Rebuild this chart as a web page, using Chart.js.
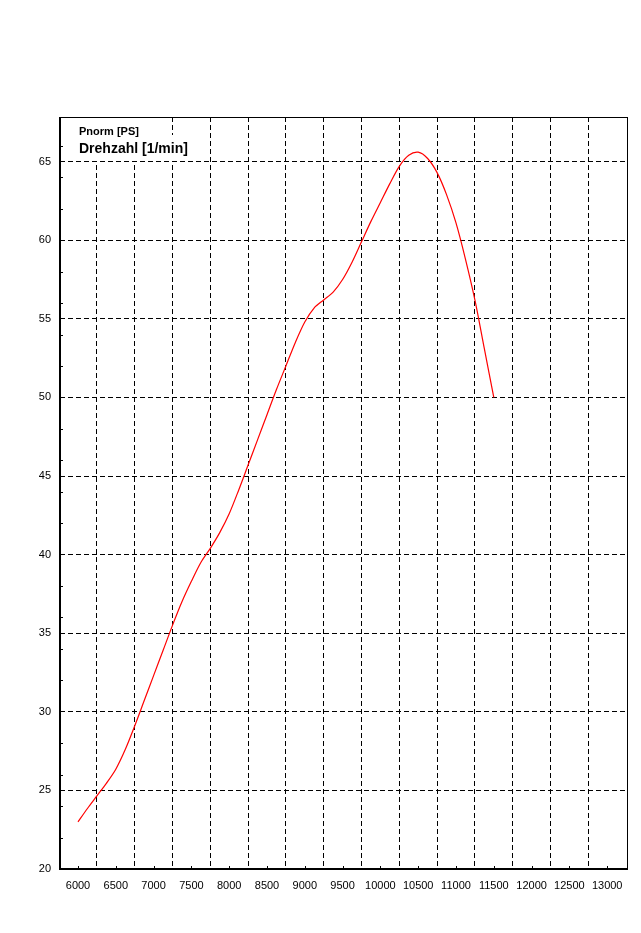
<!DOCTYPE html>
<html>
<head>
<meta charset="utf-8">
<script src="https://cdn.jsdelivr.net/npm/chart.js@4/dist/chart.umd.min.js"></script>
<style>
  html, body { margin: 0; padding: 0; background: #ffffff; }
  #wrap { width: 641px; height: 933px; }
</style>
</head>
<body>
<div id="wrap"><canvas id="powerChart"></canvas></div>
<script>
// Drehzahl (1/min) und Leistung Pnorm (PS)
const rpm = [6000, 6125, 6250, 6375, 6500, 6625, 6750, 6875, 7000, 7125, 7250, 7375, 7500, 7625, 7750, 7875,
             8000, 8125, 8250, 8375, 8500, 8625, 8750, 8875, 9000, 9125, 9250, 9375, 9500, 9625, 9750, 9875,
             10000, 10125, 10250, 10375, 10500, 10625, 10750, 10875, 11000, 11125, 11250, 11375, 11500];
const pnorm = [23.0, 23.85, 24.65, 25.45, 26.35, 27.6, 29.1, 30.7, 32.3, 33.9, 35.5, 37.0, 38.3, 39.5, 40.4, 41.4,
               42.6, 44.1, 45.7, 47.3, 48.9, 50.5, 52.0, 53.5, 54.8, 55.7, 56.2, 56.7, 57.5, 58.6, 59.9, 61.2,
               62.4, 63.6, 64.7, 65.4, 65.6, 65.2, 64.3, 62.9, 61.1, 58.8, 56.2, 53.1, 50.0];

const xLabels = [6000, 6500, 7000, 7500, 8000, 8500, 9000, 9500, 10000, 10500, 11000, 11500, 12000, 12500, 13000];
const xGrid = [6250, 6750, 7250, 7750, 8250, 8750, 9250, 9750, 10250, 10750, 11250, 11750, 12250, 12750];
const yLabels = [20, 25, 30, 35, 40, 45, 50, 55, 60, 65];
const yMinor = [22, 24, 26, 28, 32, 34, 36, 38, 42, 44, 46, 48, 52, 54, 56, 58, 62, 64, 66];

const ctx = document.getElementById('powerChart').getContext('2d');

// kleine Striche innen, Rahmen und Beschriftung oben links
const framePlugin = {
    id: 'frame',
    beforeDatasetsDraw(chart) {
        const c = chart.ctx;
        const a = chart.chartArea;
        const x = chart.scales.x, y = chart.scales.y;
        c.save();
        c.strokeStyle = '#000';
        c.lineWidth = 1;
        c.beginPath();
        xLabels.forEach(v => {
            const px = Math.round(x.getPixelForValue(v)) + 0.5;
            c.moveTo(px, a.bottom);
            c.lineTo(px, a.bottom - 3);
        });
        yMinor.forEach(v => {
            const py = Math.round(y.getPixelForValue(v)) + 0.5;
            c.moveTo(a.left, py);
            c.lineTo(a.left + 3, py);
        });
        c.stroke();

        c.fillStyle = '#ffffff';
        c.fillRect(a.left + 15, a.top + 1, 72, 17);
        c.fillRect(a.left + 15, a.top + 18, 121, 26);
        c.fillStyle = '#000';
        c.textBaseline = 'alphabetic';
        c.font = 'bold 11px "Liberation Sans", Arial, sans-serif';
        c.fillText('Pnorm [PS]', a.left + 19, a.top + 18);
        c.font = 'bold 14px "Liberation Sans", Arial, sans-serif';
        c.fillText('Drehzahl [1/min]', a.left + 19, a.top + 36);
        c.restore();
    },
    afterDraw(chart) {
        const c = chart.ctx;
        const a = chart.chartArea;
        c.save();
        c.strokeStyle = '#000';
        c.lineWidth = 1;
        c.strokeRect(Math.round(a.left) + 0.5, Math.round(a.top) + 0.5,
                     Math.round(a.right - a.left), Math.round(a.bottom - a.top));
        c.lineWidth = 2;
        c.beginPath();
        c.moveTo(a.left, a.top);
        c.lineTo(a.left, a.bottom);
        c.lineTo(a.right, a.bottom);
        c.stroke();
        c.restore();
    }
};

const powerChart = new Chart(ctx, {
    type: 'line',
    data: {
        datasets: [{
            label: 'Pnorm [PS]',
            data: rpm.map((r, i) => ({ x: r, y: pnorm[i] })),
            borderColor: '#ff0000',
            borderWidth: 1.2,
            pointRadius: 0,
            tension: 0.3,
            fill: false
        }]
    },
    options: {
        responsive: true,
        maintainAspectRatio: false,
        animation: false,
        layout: { padding: { top: 117, right: 14, bottom: 0, left: 0 } },
        plugins: {
            legend: { display: false },
            tooltip: { enabled: false }
        },
        scales: {
            x: {
                type: 'linear',
                min: 5762,
                max: 13262,
                afterBuildTicks: (scale) => {
                    scale.ticks = xLabels.concat(xGrid).sort((p, q) => p - q).map(v => ({ value: v }));
                },
                afterFit: (scale) => { scale.height = 64; },
                ticks: {
                    autoSkip: false,
                    maxRotation: 0,
                    padding: 10,
                    color: '#000',
                    font: { family: '"Liberation Sans", Arial, sans-serif', size: 11 },
                    callback: (v) => (v % 500 === 0 ? String(v) : '')
                },
                grid: {
                    drawTicks: false,
                    lineWidth: 1,
                    color: (c) => (c.tick && c.tick.value % 500 === 250 ? '#000' : 'rgba(0,0,0,0)')
                },
                border: { display: false, dash: [5, 3] }
            },
            y: {
                min: 20,
                max: 67.84,
                afterBuildTicks: (scale) => {
                    scale.ticks = yLabels.map(v => ({ value: v }));
                },
                afterFit: (scale) => { scale.width = 60; },
                ticks: {
                    padding: 9,
                    color: '#000',
                    font: { family: '"Liberation Sans", Arial, sans-serif', size: 11 }
                },
                grid: {
                    drawTicks: false,
                    lineWidth: 1,
                    color: '#000'
                },
                border: { display: false, dash: [5, 3] }
            }
        }
    },
    plugins: [framePlugin]
});
</script>
</body>
</html>
